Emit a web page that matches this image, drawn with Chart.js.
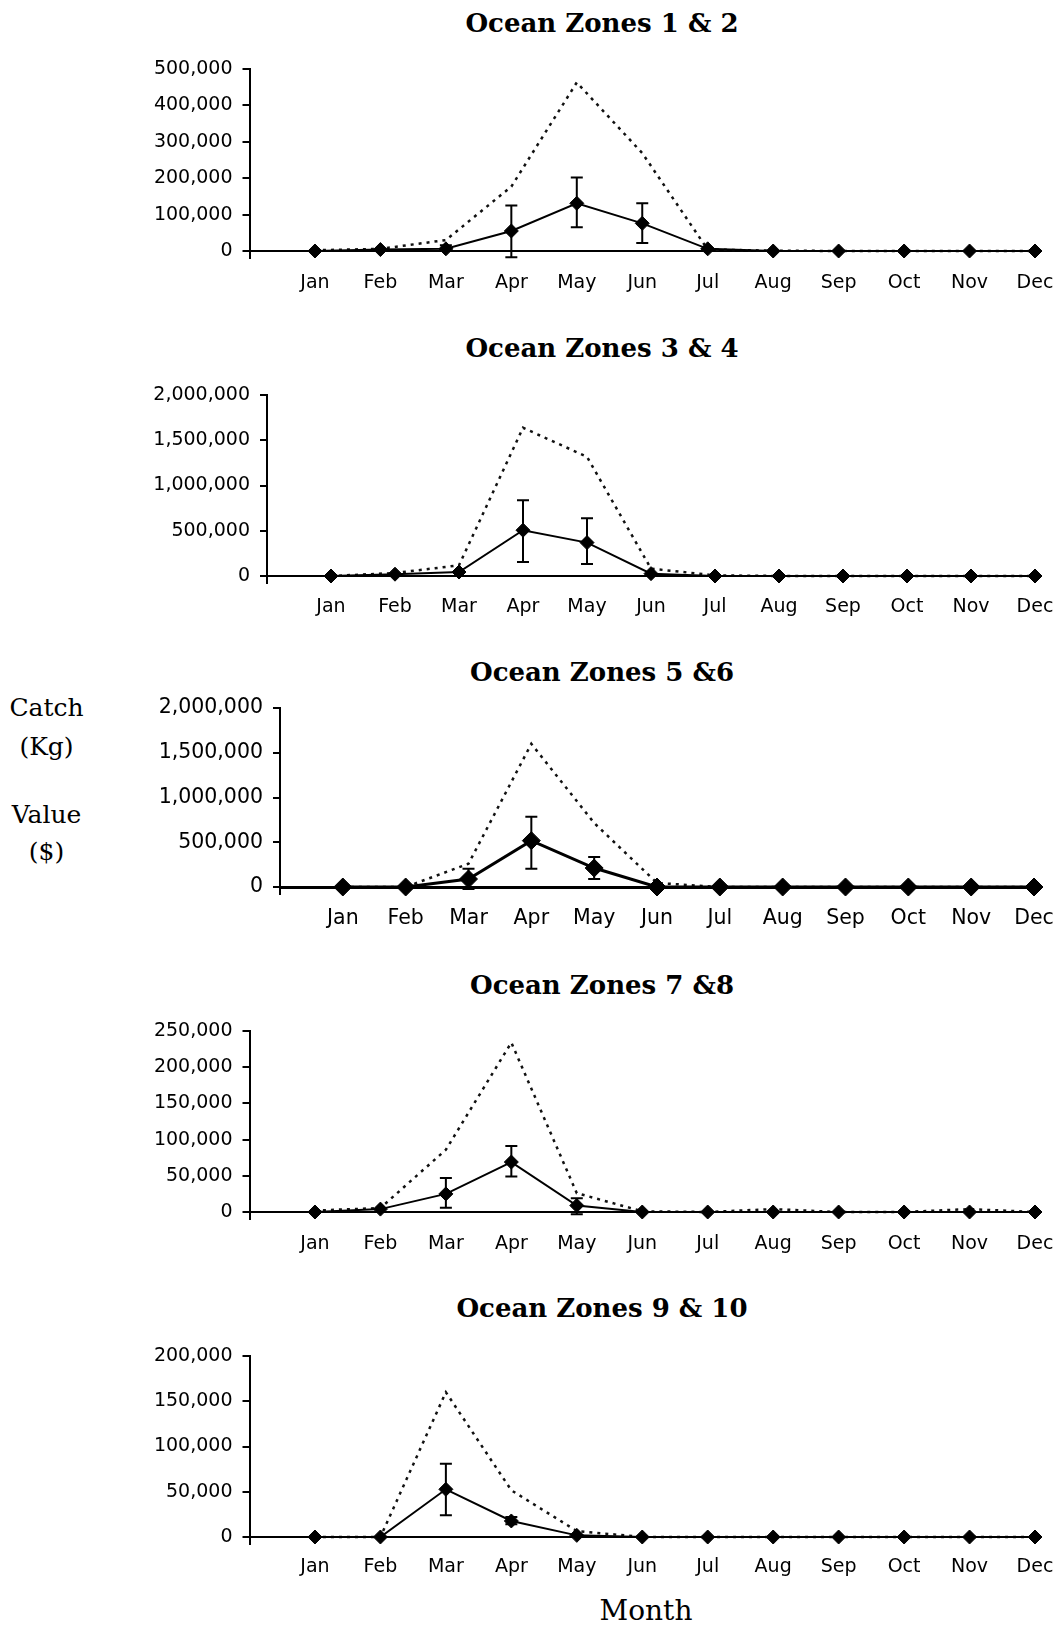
<!DOCTYPE html>
<html>
<head>
<meta charset="utf-8">
<script src="https://cdn.jsdelivr.net/npm/chart.js@4.4.0/dist/chart.umd.min.js"></script>
<style>
  body { margin: 0; background: #fff; }
  #page { position: relative; width: 1058px; height: 1627px; overflow: hidden; background: #fff; }
  .title { position: absolute; left: 0; width: 1204px; text-align: center; font: bold 26px 'DejaVu Serif', serif; line-height: 30px; color: #000; }
  .side { position: absolute; left: 0; width: 93px; text-align: center; font: 25px 'DejaVu Serif', serif; line-height: 30px; color: #000; }
  canvas { position: absolute; left: 0; }
</style>
</head>
<body>
<div id="page">
  <div class="side" style="top:693px">Catch</div>
  <div class="side" style="top:732px">(Kg)</div>
  <div class="side" style="top:800px">Value</div>
  <div class="side" style="top:837px">($)</div>
  <div class="side" style="top:1596px;left:599px;width:94px;font-size:28px">Month</div>
</div>
<script>
const months = ['Jan', 'Feb', 'Mar', 'Apr', 'May', 'Jun', 'Jul', 'Aug', 'Sep', 'Oct', 'Nov', 'Dec'];

// catch (kg) - solid line with diamonds, value ($) - dotted line
const zone12Catch = [0, 4000, 6000, 55000, 131000, 76000, 6000, 0, 0, 0, 0, 0];
const zone12Value = [2000, 6000, 30000, 177000, 463000, 269000, 4000, 1000, 0, 0, 0, 0];
const zone12ErrLow = [null, null, 0, -17000, 65000, 22000, null, null, null, null, null, null];
const zone12ErrHigh = [null, null, 16000, 125000, 202000, 131000, null, null, null, null, null, null];

const zone34Catch = [0, 20000, 44000, 506000, 369000, 26000, 0, 0, 0, 0, 0, 0];
const zone34Value = [0, 33000, 118000, 1638000, 1317000, 81000, 7000, 0, 0, 0, 0, 0];
const zone34ErrLow = [null, null, null, 155000, 133000, null, null, null, null, null, null, null];
const zone34ErrHigh = [null, null, null, 838000, 638000, null, null, null, null, null, null, null];

const zone56Catch = [0, 0, 89000, 518000, 212000, 0, 0, 0, 0, 0, 0, 0];
const zone56Value = [0, 0, 260000, 1600000, 715000, 45000, 0, 0, 0, 0, 0, 0];
const zone56ErrLow = [null, null, -22000, 205000, 89000, null, null, null, null, null, null, null];
const zone56ErrHigh = [null, null, 205000, 786000, 335000, null, null, null, null, null, null, null];

const zone78Catch = [0, 4000, 25000, 69000, 9000, 0, 0, 0, 0, 0, 0, 0];
const zone78Value = [2000, 5500, 86000, 234000, 26000, 1000, 0, 4000, 0, 0, 4000, 0];
const zone78ErrLow = [null, null, 6000, 49000, -3000, null, null, null, null, null, null, null];
const zone78ErrHigh = [null, null, 47000, 91000, 19000, null, null, null, null, null, null, null];

const zone910Catch = [0, 0, 52700, 17700, 1800, 0, 0, 0, 0, 0, 0, 0];
const zone910Value = [0, 0, 160000, 51600, 6600, 0, 0, 0, 0, 0, 0, 0];
const zone910ErrLow = [null, null, 24000, 14000, null, null, null, null, null, null, null, null];
const zone910ErrHigh = [null, null, 81000, 22000, null, null, null, null, null, null, null, null];

const panels = [
    { title: 'Ocean Zones 1 & 2', c: zone12Catch, v: zone12Value, lo: zone12ErrLow, hi: zone12ErrHigh,
      yMax: 500000, yStep: 100000, axisX: 249.5, right: 1035, top: 69, zero: 251, titleY: 23, radius: 7, lw: 2, fs: 19, xPad: 13 },
    { title: 'Ocean Zones 3 & 4', c: zone34Catch, v: zone34Value, lo: zone34ErrLow, hi: zone34ErrHigh,
      yMax: 2000000, yStep: 500000, axisX: 267, right: 1035, top: 395, zero: 576, titleY: 348, radius: 7, lw: 2, fs: 19, xPad: 12 },
    { title: 'Ocean Zones 5 &6', c: zone56Catch, v: zone56Value, lo: zone56ErrLow, hi: zone56ErrHigh,
      yMax: 2000000, yStep: 500000, axisX: 280, right: 1034, top: 708, zero: 887, titleY: 672, radius: 9, lw: 3, fs: 20.5, xPad: 11 },
    { title: 'Ocean Zones 7 &8', c: zone78Catch, v: zone78Value, lo: zone78ErrLow, hi: zone78ErrHigh,
      yMax: 250000, yStep: 50000, axisX: 249.5, right: 1035, top: 1031, zero: 1212, titleY: 985, radius: 7, lw: 2, fs: 19, xPad: 13 },
    { title: 'Ocean Zones 9 & 10', c: zone910Catch, v: zone910Value, lo: zone910ErrLow, hi: zone910ErrHigh,
      yMax: 200000, yStep: 50000, axisX: 249.5, right: 1035, top: 1355.5, zero: 1536.5, titleY: 1308, radius: 7, lw: 2, fs: 19, xPad: 11 }
];

const errorBars = {
    id: 'errorBars',
    afterDatasetsDraw(chart, args, opts) {
        const { ctx } = chart;
        const x = chart.scales.x, y = chart.scales.y;
        ctx.save();
        ctx.strokeStyle = '#000';
        ctx.lineWidth = opts.width;
        opts.low.forEach((lo, i) => {
            const hi = opts.high[i];
            if (lo == null || hi == null) return;
            const px = x.getPixelForValue(i + 1);
            const y1 = y.getPixelForValue(lo);
            const y2 = y.getPixelForValue(hi);
            ctx.beginPath();
            ctx.moveTo(px, y1); ctx.lineTo(px, y2);
            ctx.moveTo(px - opts.cap, y1); ctx.lineTo(px + opts.cap, y1);
            ctx.moveTo(px - opts.cap, y2); ctx.lineTo(px + opts.cap, y2);
            ctx.stroke();
        });
        ctx.restore();
    }
};

const page = document.getElementById('page');
const padTop = 24, axisBelow = 60;

panels.forEach(p => {
    const t = document.createElement('div');
    t.className = 'title';
    t.style.top = (p.titleY - 15) + 'px';
    t.textContent = p.title;
    page.appendChild(t);

    const cv = document.createElement('canvas');
    const h = Math.round(p.zero - p.top) + padTop + axisBelow;
    cv.width = 1058;
    cv.height = h;
    cv.style.top = (p.top - padTop) + 'px';
    page.appendChild(cv);

    const tickFont = { family: 'DejaVu Sans', size: p.fs };

    new Chart(cv.getContext('2d'), {
        type: 'line',
        data: {
            datasets: [
                {
                    label: 'Catch (Kg)',
                    data: p.c.map((val, i) => ({ x: i + 1, y: val })),
                    borderColor: '#000',
                    borderWidth: p.lw,
                    pointStyle: 'rectRot',
                    pointRadius: p.radius,
                    pointBackgroundColor: '#000',
                    pointBorderColor: '#000',
                    pointBorderWidth: 1,
                    tension: 0,
                    clip: false
                },
                {
                    label: 'Value ($)',
                    data: p.v.map((val, i) => ({ x: i + 1, y: val })),
                    borderColor: '#111',
                    borderWidth: 2.5,
                    borderDash: [3, 5],
                    pointRadius: 0,
                    tension: 0,
                    clip: false
                }
            ]
        },
        options: {
            responsive: false,
            animation: false,
            devicePixelRatio: 1,
            layout: { padding: { top: padTop, right: 1058 - p.right, left: 0, bottom: 0 } },
            plugins: {
                legend: { display: false },
                tooltip: { enabled: false },
                errorBars: { low: p.lo, high: p.hi, cap: 6, width: 2 }
            },
            scales: {
                x: {
                    type: 'linear', min: 0, max: 12,
                    afterFit: s => { s.height = axisBelow; s.paddingLeft = 0; s.paddingRight = 0; },
                    ticks: {
                        stepSize: 1, autoSkip: false, maxRotation: 0, color: '#000', font: tickFont, padding: p.xPad,
                        callback: v => months[v - 1] || ''
                    },
                    grid: {
                        drawOnChartArea: false, tickLength: 8, lineWidth: 2,
                        color: c => (c.tick && c.tick.value === 0) ? '#000' : 'rgba(0,0,0,0)'
                    },
                    border: { color: '#000', width: p.lw }
                },
                y: {
                    min: 0, max: p.yMax,
                    afterFit: s => { s.width = p.axisX; s.paddingTop = 0; s.paddingBottom = 0; },
                    ticks: {
                        stepSize: p.yStep, color: '#000', font: tickFont, padding: 10,
                        callback: v => v.toLocaleString('en-US')
                    },
                    grid: { drawOnChartArea: false, tickLength: 7, color: '#000', lineWidth: 2 },
                    border: { color: '#000', width: 2 }
                }
            }
        },
        plugins: [errorBars]
    });
});
</script>
</body>
</html>
